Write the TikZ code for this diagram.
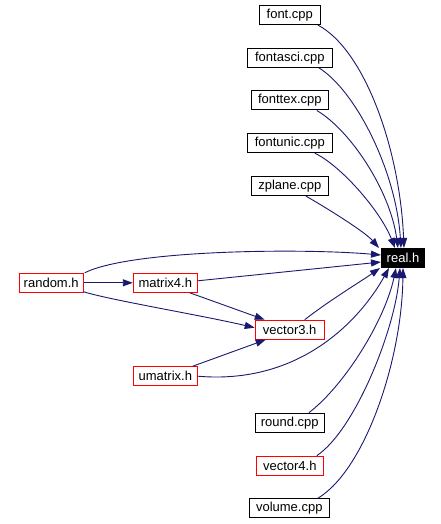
\documentclass[tikz,border=0pt]{standalone}
\usepackage{fontspec}
\setmainfont{Liberation Sans}
\usetikzlibrary{arrows.meta}
\definecolor{edgeblue}{HTML}{191970}
\tikzset{
  box/.style={draw=black, fill=white, line width=1pt, inner sep=0pt, minimum height=19pt, font=\fontsize{13}{15}\selectfont},
  redbox/.style={box, draw=red},
  rootbox/.style={box, fill=black, text=white},
  dep/.style={draw=edgeblue, line width=0.9pt, -{Triangle[length=10pt,width=7pt]}}
}
\begin{document}
\begin{tikzpicture}[x=1pt,y=-1pt]
\useasboundingbox (0,0) rectangle (441,524);
\node[box, minimum width=61pt] (font) at (289.8,15) {font.cpp};
\node[box, minimum width=85pt] (fontasci) at (289.8,57.8) {fontasci.cpp};
\node[box, minimum width=77pt] (fonttex) at (289.8,100.5) {fonttex.cpp};
\node[box, minimum width=85pt] (fontunic) at (289.8,143.2) {fontunic.cpp};
\node[box, minimum width=77pt] (zplane) at (289.8,186) {zplane.cpp};
\node[rootbox, minimum width=43pt] (real) at (403,258) {real.h};
\node[redbox, minimum width=64pt] (random) at (51.2,282.8) {random.h};
\node[redbox, minimum width=64pt] (matrix) at (165.3,282.8) {matrix4.h};
\node[redbox, minimum width=69pt] (vecthree) at (289.7,329.7) {vector3.h};
\node[redbox, minimum width=64pt] (umatrix) at (165.3,376.2) {umatrix.h};
\node[box, minimum width=69pt] (round) at (289.8,422.8) {round.cpp};
\node[redbox, minimum width=67pt] (vecfour) at (289.8,465.7) {vector4.h};
\node[box, minimum width=80pt] (volume) at (289.3,508.3) {volume.cpp};

\draw[dep] ([xshift=-3pt]font.south east) .. controls (365,50) and (400,150) .. ([xshift=1pt]real.north);
\draw[dep] ([xshift=-14pt]fontasci.south east) .. controls (355,90) and (396,170) .. ([xshift=-2pt]real.north);
\draw[dep] ([xshift=-12pt]fonttex.south east) .. controls (350,130) and (390,190) .. ([xshift=-5pt]real.north);
\draw[dep] ([xshift=-18pt]fontunic.south east) .. controls (340,165) and (380,210) .. ([xshift=-8pt]real.north);
\draw[dep] ([xshift=-23pt]zplane.south east) .. controls (330,210) and (365,232) .. ([xshift=-2pt]real.north west);
\draw[dep] ([xshift=1pt]random.north east) .. controls (130,250) and (300,248) .. ([yshift=3pt]real.west);
\draw[dep] (random.east) -- (matrix.west);
\draw[dep] ([yshift=1pt]random.south east) .. controls (110,300) and (200,315) .. ([yshift=2pt]vecthree.west);
\draw[dep] ([yshift=2pt]matrix.east) -- ([yshift=-4pt]real.west);
\draw[dep] ([xshift=-8pt]matrix.south east) -- ([xshift=-25pt]vecthree.north);
\draw[dep] ([xshift=15pt]vecthree.north) .. controls (330,300) and (360,282) .. ([xshift=-1pt]real.south west);
\draw[dep] ([xshift=-5pt]umatrix.north east) -- ([xshift=-24pt]vecthree.south);
\draw[dep] (umatrix.east) .. controls (300,385) and (360,320) .. ([xshift=-14pt]real.south);
\draw[dep] ([xshift=-16pt]round.north east) .. controls (345,385) and (385,320) .. ([xshift=-7pt]real.south);
\draw[dep] ([xshift=-7pt]vecfour.north east) .. controls (355,430) and (395,330) .. ([xshift=-3pt]real.south);
\draw[dep] ([xshift=-12pt]volume.north east) .. controls (365,470) and (402,360) .. ([xshift=0pt]real.south);
\end{tikzpicture}
\end{document}
